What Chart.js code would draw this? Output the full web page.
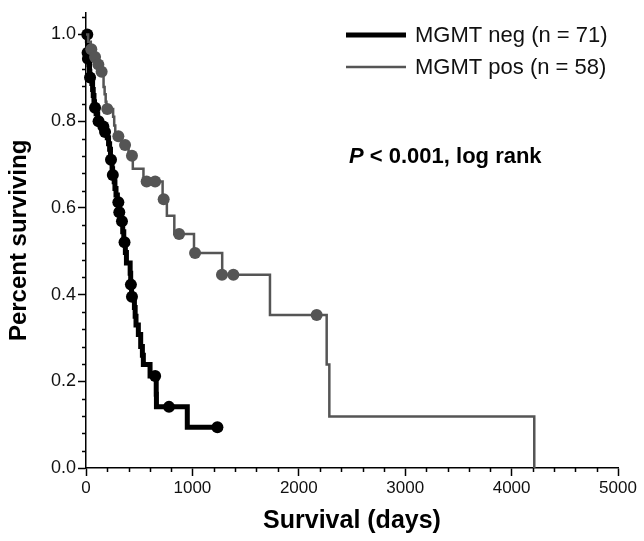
<!DOCTYPE html>
<html>
<head>
<meta charset="utf-8">
<script src="https://cdn.jsdelivr.net/npm/chart.js@4/dist/chart.umd.min.js"></script>
<style>
  html, body { margin: 0; padding: 0; background: #fff; }
  #wrap { width: 644px; height: 541px; position: relative; }
</style>
</head>
<body>
<div id="wrap"><canvas id="c" width="644" height="541"></canvas></div>
<script>
// ---- Data ----
const seriesNames = ['MGMT neg (n = 71)', 'MGMT pos (n = 58)'];

// MGMT neg: event times (days) and survival after each step
const negTimes = [0, 13, 14, 15, 16, 28, 33, 36, 55, 62, 68, 75, 80, 95, 110, 140, 172, 200, 212, 222, 230, 245, 250, 265, 272, 282, 295, 308, 322, 345, 355, 370, 380, 415, 420, 428, 455, 462, 470, 492, 514, 530, 539, 602, 660, 662, 952, 1235];
const negSurv  = [1.0, 0.986, 0.972, 0.958, 0.944, 0.930, 0.915, 0.901, 0.887, 0.873, 0.859, 0.845, 0.831, 0.817, 0.800, 0.788, 0.775, 0.762, 0.748, 0.735, 0.711, 0.690, 0.676, 0.660, 0.645, 0.630, 0.613, 0.590, 0.569, 0.545, 0.521, 0.497, 0.473, 0.449, 0.423, 0.395, 0.370, 0.350, 0.330, 0.308, 0.280, 0.260, 0.239, 0.212, 0.170, 0.141, 0.094, 0.094];
// MGMT neg: censored observations
const negCensTimes = [12, 15, 18, 38, 85, 118, 163, 179, 235, 252, 304, 313, 338, 362, 422, 432, 650, 780, 1235];
const negCensSurv  = [1.0, 0.958, 0.944, 0.901, 0.831, 0.800, 0.788, 0.775, 0.711, 0.676, 0.613, 0.590, 0.569, 0.521, 0.423, 0.395, 0.212, 0.141, 0.094];

// MGMT pos
const posTimes = [0, 20, 45, 75, 105, 140, 165, 175, 185, 192, 255, 265, 275, 335, 400, 440, 540, 720, 760, 830, 1015, 1280, 1729, 2262, 2287, 4213];
const posSurv  = [1.0, 0.983, 0.966, 0.948, 0.931, 0.914, 0.879, 0.862, 0.845, 0.828, 0.810, 0.790, 0.765, 0.745, 0.720, 0.690, 0.661, 0.620, 0.582, 0.540, 0.496, 0.446, 0.353, 0.239, 0.119, 0.0];
const posCensTimes = [50, 85, 116, 147, 200, 304, 367, 432, 570, 650, 730, 875, 1025, 1278, 1385, 2168];
const posCensSurv  = [0.966, 0.948, 0.931, 0.914, 0.828, 0.765, 0.745, 0.720, 0.661, 0.661, 0.620, 0.540, 0.496, 0.446, 0.446, 0.353];

// Axis tick settings
const xMajorStep = 1000, xMinorStep = 200, xMax = 5000;
const yMajorStep = 0.2, yMinorStep = 0.04, yMax = 1.05;
const pText = { italic: 'P', rest: ' < 0.001, log rank' };

// ---- Build ----
const pts = (xs, ys) => xs.map((x, i) => ({ x: x, y: ys[i] }));
const GRAY = '#555555', BLACK = '#000000';
const FONT = "'Liberation Sans', Arial, Helvetica, sans-serif";

const minorTicks = {
  id: 'minorTicks',
  afterDraw(chart) {
    const { ctx, chartArea: a, scales: { x, y } } = chart;
    ctx.save();
    ctx.strokeStyle = '#000';
    ctx.lineWidth = 1.5;
    ctx.beginPath();
    for (let v = 0; v <= xMax + 1e-9; v += xMinorStep) {
      if (Math.abs(v / xMajorStep - Math.round(v / xMajorStep)) < 1e-6) continue;
      const px = Math.round(x.getPixelForValue(v)) + 0.5;
      ctx.moveTo(px, a.bottom); ctx.lineTo(px, a.bottom + 4);
    }
    for (let v = 0; v <= yMax + 1e-9; v += yMinorStep) {
      const r = v / yMajorStep;
      if (Math.abs(r - Math.round(r)) < 1e-6) continue;
      const py = Math.round(y.getPixelForValue(v)) + 0.5;
      ctx.moveTo(a.left - 4, py); ctx.lineTo(a.left, py);
    }
    ctx.stroke();
    ctx.restore();
  }
};

const legendAndNote = {
  id: 'legendAndNote',
  afterDraw(chart) {
    const ctx = chart.ctx;
    ctx.save();
    const rows = [
      { name: seriesNames[0], color: BLACK, w: 5, y: 35 },
      { name: seriesNames[1], color: GRAY, w: 2.5, y: 67 }
    ];
    rows.forEach(r => {
      ctx.strokeStyle = r.color; ctx.lineWidth = r.w;
      ctx.beginPath(); ctx.moveTo(346, r.y); ctx.lineTo(406, r.y); ctx.stroke();
      ctx.fillStyle = '#111';
      ctx.font = '22px ' + FONT;
      ctx.textBaseline = 'middle';
      ctx.textAlign = 'left';
      ctx.fillText(r.name, 415, r.y + 1);
    });
    ctx.fillStyle = '#000';
    ctx.textBaseline = 'middle';
    ctx.font = 'italic bold 22px ' + FONT;
    ctx.fillText(pText.italic, 349, 157);
    const w = ctx.measureText(pText.italic).width;
    ctx.font = 'bold 22px ' + FONT;
    ctx.fillText(pText.rest, 349 + w, 157);
    ctx.restore();
  }
};

new Chart(document.getElementById('c'), {
  type: 'line',
  data: {
    datasets: [
      { label: seriesNames[1] + ' censored', data: pts(posCensTimes, posCensSurv), showLine: false,
        pointRadius: 6, pointBackgroundColor: GRAY, pointBorderWidth: 0, pointHoverRadius: 6, clip: false },
      { label: seriesNames[1], data: pts(posTimes, posSurv), stepped: 'before', borderColor: GRAY,
        borderWidth: 2.5, pointRadius: 0, fill: false, clip: false },
      { label: seriesNames[0] + ' censored', data: pts(negCensTimes, negCensSurv), showLine: false,
        pointRadius: 6, pointBackgroundColor: BLACK, pointBorderWidth: 0, pointHoverRadius: 6, clip: false },
      { label: seriesNames[0], data: pts(negTimes, negSurv), stepped: 'before', borderColor: BLACK,
        borderWidth: 5, pointRadius: 0, fill: false, clip: false }
    ]
  },
  options: {
    responsive: false,
    animation: false,
    layout: { padding: { top: 8, right: 26, left: 0, bottom: 0 } },
    plugins: { legend: { display: false }, tooltip: { enabled: false } },
    scales: {
      x: {
        type: 'linear', min: 0, max: xMax,
        afterFit: s => { s.height = 73; },
        border: { display: true, color: '#000', width: 1.5 },
        grid: { display: true, drawOnChartArea: false, drawTicks: true, tickLength: 8, tickColor: '#000', tickWidth: 1.5 },
        ticks: { stepSize: xMajorStep, color: '#111', font: { family: FONT, size: 17 }, padding: 2,
                 maxRotation: 0, includeBounds: false, callback: v => String(v) },
        title: { display: true, text: 'Survival (days)', color: '#000',
                 font: { family: FONT, size: 25, weight: 'bold' }, padding: { top: 0, bottom: 5 } }
      },
      y: {
        type: 'linear', min: 0, max: yMax,
        afterFit: s => { s.width = 86; },
        border: { display: true, color: '#000', width: 1.5 },
        grid: { display: true, drawOnChartArea: false, drawTicks: true, tickLength: 8, tickColor: '#000', tickWidth: 1.5 },
        ticks: { stepSize: yMajorStep, color: '#111', font: { family: FONT, size: 18 }, padding: 2,
                 includeBounds: false, callback: v => Number(v).toFixed(1) },
        title: { display: true, text: 'Percent surviving', color: '#000',
                 font: { family: FONT, size: 24, weight: 'bold' }, padding: { top: 5, bottom: 0 } }
      }
    }
  },
  plugins: [minorTicks, legendAndNote]
});
</script>
</body>
</html>
